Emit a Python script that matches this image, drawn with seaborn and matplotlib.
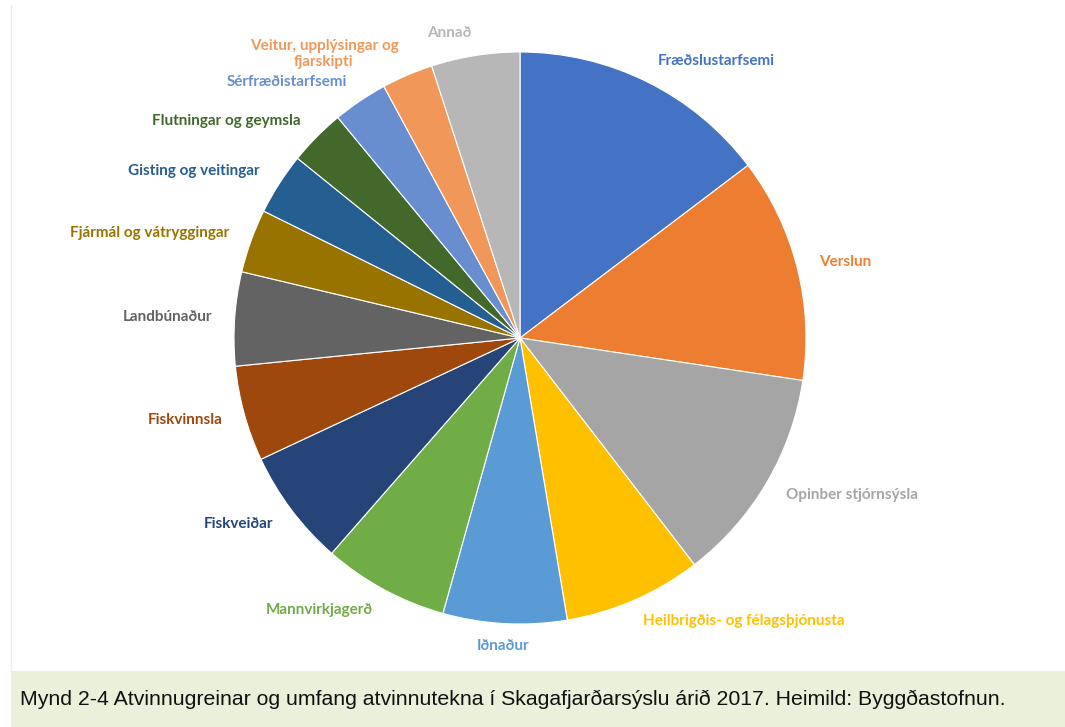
import matplotlib
matplotlib.use("Agg")
import matplotlib.pyplot as plt
import seaborn as sns
from matplotlib.patches import Rectangle
from matplotlib.lines import Line2D

# atvinnugreinar og hlutdeild (%) lesin af myndinni
greinar = [
    "Fræðslustarfsemi", "Verslun", "Opinber stjórnsýsla",
    "Heilbrigðis- og félagsþjónusta", "Iðnaður", "Mannvirkjagerð",
    "Fiskveiðar", "Fiskvinnsla", "Landbúnaður", "Fjármál og vátryggingar",
    "Gisting og veitingar", "Flutningar og geymsla", "Sérfræðistarfsemi",
    "Veitur, upplýsingar og\nfjarskipti", "Annað",
]
hlutdeild = [14.7, 12.7, 12.2, 7.8, 7.0, 7.1, 6.6, 5.4, 5.3, 3.6, 3.5, 3.2, 3.1, 2.9, 5.0]
litir = [
    "#4472C4", "#ED7D31", "#A5A5A5", "#FFC000", "#5B9BD5", "#70AD47",
    "#264478", "#9E480E", "#636363", "#997300", "#255E91", "#43682B",
    "#698ED0", "#F1975A", "#B7B7B7",
]
texti = "Mynd 2-4 Atvinnugreinar og umfang atvinnutekna í Skagafjarðarsýslu árið 2017. Heimild: Byggðastofnun."

sns.set_theme(style="white")
plt.rcParams["font.family"] = ["Lato", "DejaVu Sans"]

fig = plt.figure(figsize=(10.65, 7.27), dpi=100)
fig.patch.set_facecolor("white")

# myndatexti neðst
fig.patches.append(Rectangle((11 / 1065, 0), 1, 56 / 727, transform=fig.transFigure,
                             facecolor="#EAF0DA", edgecolor="none", zorder=0))
fig.lines.append(Line2D([11 / 1065, 11 / 1065], [56 / 727, 1 - 5 / 727], transform=fig.transFigure,
                        color="#EEEEDD", lw=1))
fig.text(20 / 1065, 28 / 727, texti, ha="left", va="center", fontsize=15.3,
         family=["Liberation Sans", "DejaVu Sans"], color="#111111")

ax = fig.add_axes([234 / 1065, 103 / 727, 572 / 1065, 572 / 727])
wedges, labels = ax.pie(
    hlutdeild, labels=greinar, colors=litir, startangle=90, counterclock=False,
    labeldistance=1.08, wedgeprops=dict(edgecolor="white", linewidth=0.8),
    textprops=dict(fontsize=11, fontweight="bold"),
)
for t, c in zip(labels, litir):
    t.set_color(c)
    t.set_multialignment("center")
labels[greinar.index("Iðnaður")].set_ha("center")
ax.set_xlim(-1, 1)
ax.set_ylim(-1, 1)
ax.axis("off")

fig.savefig("out.png", dpi=100)
